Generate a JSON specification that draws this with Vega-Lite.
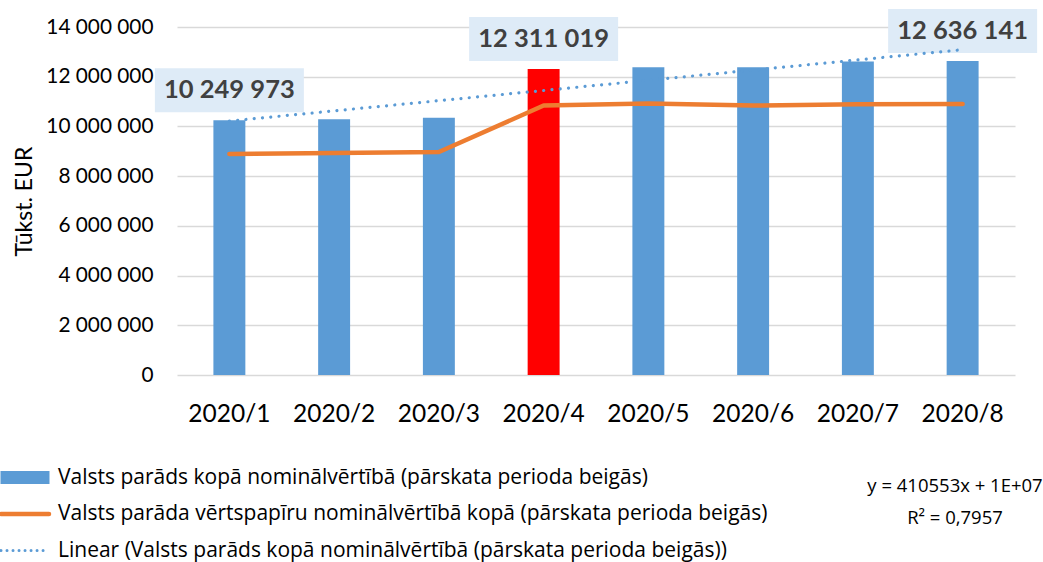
{
  "$schema": "https://vega.github.io/schema/vega-lite/v6.json",
  "width": 838,
  "height": 348,
  "autosize": {"type": "none"},
  "padding": {"left": 177, "top": 27, "right": 28, "bottom": 187},
  "background": "white",
  "config": {
    "locale": {"number": {"decimal": ",", "thousands": " ", "grouping": [3], "currency": ["", ""]}},
    "view": {"stroke": null},
    "font": "Lato"
  },
  "title": {
    "text": ["y = 410553x + 1E+07", "R² = 0,7957"],
    "orient": "bottom",
    "anchor": "end",
    "align": "center",
    "frame": "group",
    "dx": -60,
    "dy": -88,
    "font": "Open Sans",
    "fontSize": 18.5,
    "fontWeight": "normal",
    "lineHeight": 32,
    "color": "#000000"
  },
  "data": {
    "values": [
      {"n": 1, "month": "2020/1", "series": "Valsts parāds kopā nominālvērtībā (pārskata perioda beigās)", "value": 10249973},
      {"n": 2, "month": "2020/2", "series": "Valsts parāds kopā nominālvērtībā (pārskata perioda beigās)", "value": 10290000},
      {"n": 3, "month": "2020/3", "series": "Valsts parāds kopā nominālvērtībā (pārskata perioda beigās)", "value": 10350000},
      {"n": 4, "month": "2020/4", "series": "Valsts parāds kopā nominālvērtībā (pārskata perioda beigās)", "value": 12311019},
      {"n": 5, "month": "2020/5", "series": "Valsts parāds kopā nominālvērtībā (pārskata perioda beigās)", "value": 12380000},
      {"n": 6, "month": "2020/6", "series": "Valsts parāds kopā nominālvērtībā (pārskata perioda beigās)", "value": 12380000},
      {"n": 7, "month": "2020/7", "series": "Valsts parāds kopā nominālvērtībā (pārskata perioda beigās)", "value": 12610000},
      {"n": 8, "month": "2020/8", "series": "Valsts parāds kopā nominālvērtībā (pārskata perioda beigās)", "value": 12636141},
      {"n": 1, "month": "2020/1", "series": "Valsts  parāda vērtspapīru nominālvērtībā kopā (pārskata perioda beigās)", "value": 8890000},
      {"n": 2, "month": "2020/2", "series": "Valsts  parāda vērtspapīru nominālvērtībā kopā (pārskata perioda beigās)", "value": 8930000},
      {"n": 3, "month": "2020/3", "series": "Valsts  parāda vērtspapīru nominālvērtībā kopā (pārskata perioda beigās)", "value": 8970000},
      {"n": 4, "month": "2020/4", "series": "Valsts  parāda vērtspapīru nominālvērtībā kopā (pārskata perioda beigās)", "value": 10840000},
      {"n": 5, "month": "2020/5", "series": "Valsts  parāda vērtspapīru nominālvērtībā kopā (pārskata perioda beigās)", "value": 10920000},
      {"n": 6, "month": "2020/6", "series": "Valsts  parāda vērtspapīru nominālvērtībā kopā (pārskata perioda beigās)", "value": 10840000},
      {"n": 7, "month": "2020/7", "series": "Valsts  parāda vērtspapīru nominālvērtībā kopā (pārskata perioda beigās)", "value": 10890000},
      {"n": 8, "month": "2020/8", "series": "Valsts  parāda vērtspapīru nominālvērtībā kopā (pārskata perioda beigās)", "value": 10900000}
    ]
  },
  "encoding": {
    "x": {
      "field": "n",
      "type": "ordinal",
      "scale": {"paddingInner": 0, "paddingOuter": 0},
      "axis": {
        "title": null,
        "labelAngle": 0,
        "labelExpr": "'2020/' + datum.value",
        "labelFont": "Lato",
        "labelFontSize": 24.5,
        "labelColor": "#000000",
        "labelPadding": 27,
        "domain": false,
        "ticks": false,
        "grid": false
      }
    },
    "y": {
      "field": "value",
      "type": "quantitative",
      "scale": {"domain": [0, 14000000]},
      "axis": {
        "title": "Tūkst. EUR",
        "titleFont": "Lato",
        "titleFontSize": 23,
        "titleFontWeight": "normal",
        "titleColor": "#000000",
        "titlePadding": 9,
        "values": [0, 2000000, 4000000, 6000000, 8000000, 10000000, 12000000, 14000000],
        "format": ",d",
        "labelFont": "Lato",
        "labelFontSize": 20.8,
        "labelColor": "#000000",
        "labelPadding": 24,
        "domain": false,
        "ticks": false,
        "gridColor": "#D9D9D9",
        "gridWidth": 1.3
      }
    }
  },
  "layer": [
    {
      "transform": [{"filter": "indexof(datum.series, 'Valsts parāds') === 0"}],
      "mark": {"type": "bar", "width": {"band": 0.305}},
      "encoding": {
        "color": {
          "field": "series",
          "type": "nominal",
          "condition": {"test": "datum.n === 4", "value": "#FF0000"},
          "scale": {
            "domain": [
              "Valsts parāds kopā nominālvērtībā (pārskata perioda beigās)",
              "Valsts  parāda vērtspapīru nominālvērtībā kopā (pārskata perioda beigās)",
              "Linear (Valsts parāds kopā nominālvērtībā (pārskata perioda beigās))"
            ],
            "range": ["#5B9BD5", "#ED7D31", "#5B9BD5"]
          },
          "legend": {
            "title": null,
            "orient": "none",
            "legendX": -162.5,
            "legendY": 440,
            "padding": 0,
            "symbolSize": 400,
            "symbolOffset": 0,
            "labelOffset": 22.5,
            "rowPadding": 14.5,
            "labelFont": "Open Sans",
            "labelFontSize": 21,
            "labelColor": "#000000",
            "labelLimit": 900,
            "encode": {
              "symbols": {
                "update": {
                  "shape": {"signal": "datum.index === 0 ? 'M-2.45,-0.65H2.45V0.65H-2.45Z' : 'M-2.4,0H2.4'"},
                  "fill": {"signal": "datum.index === 0 ? '#5B9BD5' : 'transparent'"},
                  "stroke": {"signal": "datum.index === 1 ? '#ED7D31' : datum.index === 2 ? '#5B9BD5' : 'transparent'"},
                  "strokeWidth": {"signal": "datum.index === 1 ? 4.5 : datum.index === 2 ? 3 : 0"},
                  "strokeDash": {"signal": "datum.index === 2 ? [0.01, 6] : []"},
                  "strokeCap": {"value": "round"},
                  "opacity": {"value": 1},
                  "fillOpacity": {"value": 1},
                  "strokeOpacity": {"value": 1}
                }
              }
            }
          }
        }
      }
    },
    {
      "transform": [
        {"filter": "indexof(datum.series, 'Valsts parāds') === 0"},
        {"filter": {"field": "n", "oneOf": [1, 4, 8]}}
      ],
      "mark": {
        "type": "point",
        "shape": "M-1.49,-1.04H1.49V-0.16H-1.49Z",
        "size": 10000,
        "filled": true,
        "fill": "#DEEBF7",
        "opacity": 1,
        "strokeWidth": 0
      }
    },
    {
      "transform": [
        {"filter": "indexof(datum.series, 'Valsts parāds') === 0"},
        {"filter": {"field": "n", "oneOf": [1, 4, 8]}}
      ],
      "mark": {
        "type": "text",
        "dy": -30,
        "baseline": "middle",
        "font": "Lato",
        "fontSize": 25.5,
        "fontWeight": "bold",
        "fill": "#404040"
      },
      "encoding": {"text": {"field": "value", "type": "quantitative", "format": ",d"}}
    },
    {
      "transform": [{"filter": "indexof(datum.series, 'vērtspapīru') > 0"}],
      "mark": {"type": "line", "strokeWidth": 4.5, "strokeCap": "round", "strokeJoin": "round"},
      "encoding": {"color": {"field": "series", "type": "nominal"}}
    },
    {
      "transform": [
        {"filter": "indexof(datum.series, 'Valsts parāds') === 0"},
        {"regression": "value", "on": "n", "groupby": ["series"]}
      ],
      "mark": {"type": "line", "strokeWidth": 3.2, "strokeDash": [0.01, 8.3], "strokeCap": "round"},
      "encoding": {"color": {"field": "series", "type": "nominal"}}
    }
  ]
}
